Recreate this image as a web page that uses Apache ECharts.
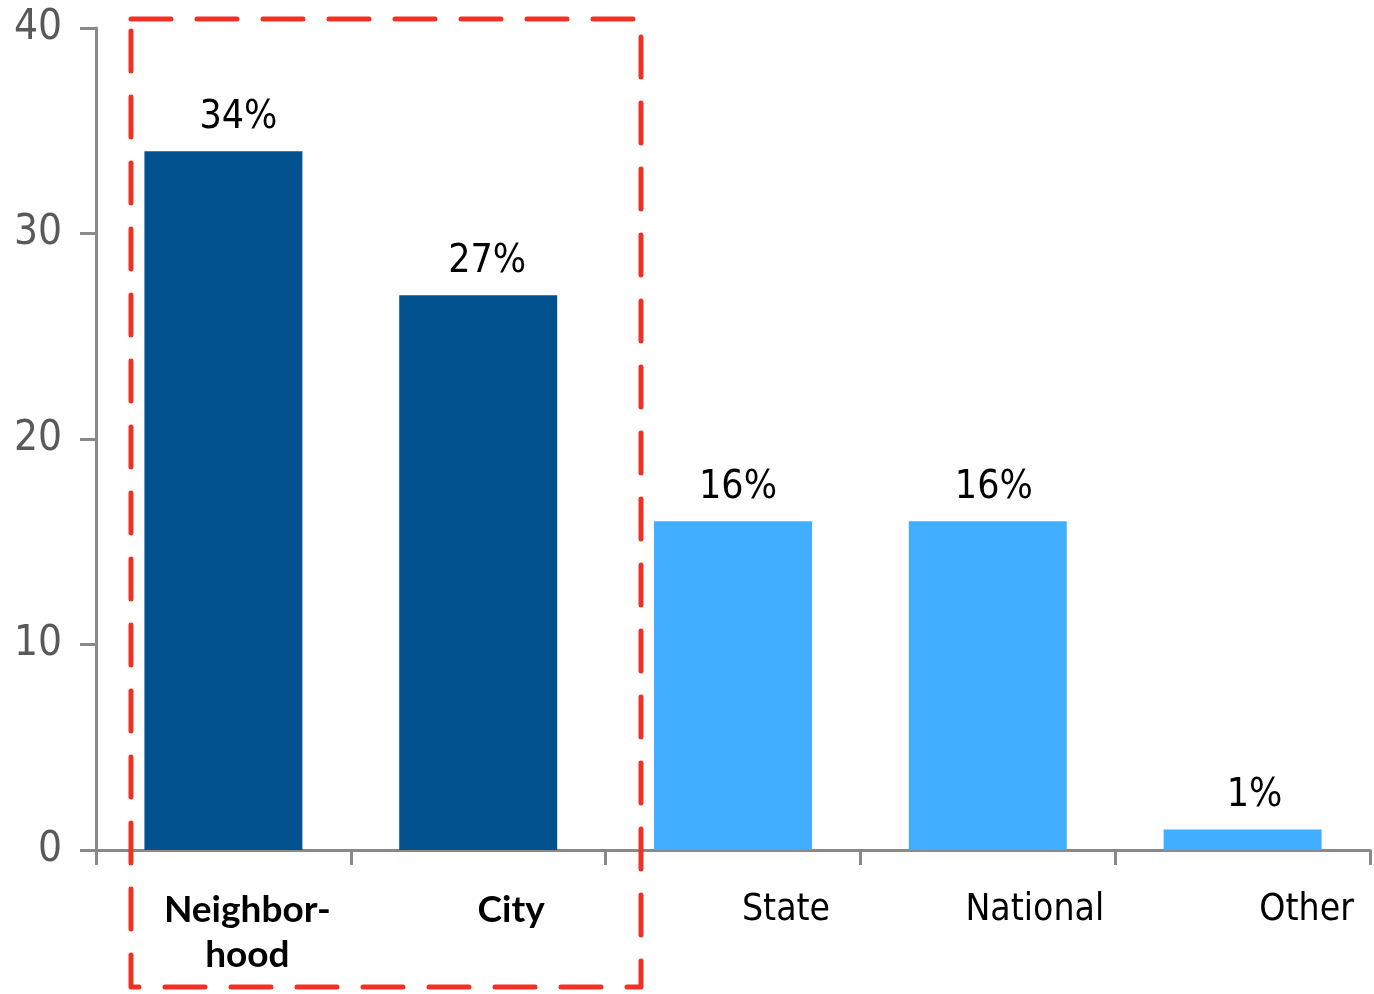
<!DOCTYPE html>
<html>
<head>
<meta charset="utf-8">
<script src="https://cdn.jsdelivr.net/npm/echarts@6/dist/echarts.min.js"></script>
<style>
  html, body { margin: 0; padding: 0; background: #fff; }
  #chart { width: 1374px; height: 994px; }
</style>
</head>
<body>
<div id="chart"></div>
<script>
// Share of respondents by scope of attention (%)
const categories = ['Neighbor-\nhood', 'City', 'State', 'National', 'Other'];
const shares = [34, 27, 16, 16, 1];
const highlighted = [true, true, false, false, false];
const yTicks = [0, 10, 20, 30, 40];

// Horizontal nudge (px) of each category label to the right of its slot centre
const labelShift = [24, 33, 53, 47, 64];
// Horizontal nudge (px) of each value label to the right of its bar centre
const valueShift = [15, 9, 5, 6, 12];

const DARK = '#02528F';
const LIGHT = '#42AEFF';
const FONT = '"DejaVu Sans Condensed", "DejaVu Sans", sans-serif';

const rich = {};
categories.forEach((c, i) => {
  rich['c' + i] = {
    fontFamily: highlighted[i] ? 'Lato, "DejaVu Sans", sans-serif' : FONT,
    fontWeight: highlighted[i] ? 'bold' : 'normal',
    fontSize: 37,
    color: '#000',
    lineHeight: 45,
    padding: [0, 0, 0, labelShift[i] * 2]
  };
});

const chart = echarts.init(document.getElementById('chart'), null, { renderer: 'canvas' });
chart.setOption({
  animation: false,
  grid: { left: 96, right: 4, top: 28, bottom: 144, containLabel: false },
  xAxis: {
    type: 'category',
    data: categories,
    axisLine: { lineStyle: { color: '#898989', width: 3 } },
    axisTick: { show: true, alignWithLabel: false, length: 15, lineStyle: { color: '#898989', width: 3 } },
    axisLabel: {
      interval: 0,
      margin: 38,
      formatter: (v, i) => v.split('\n').map(s => '{c' + i + '|' + s + '}').join('\n'),
      rich: rich
    }
  },
  yAxis: {
    type: 'value',
    min: yTicks[0],
    max: yTicks[yTicks.length - 1],
    interval: 10,
    splitLine: { show: false },
    axisLine: { show: true, lineStyle: { color: '#898989', width: 3 } },
    axisTick: { show: true, length: 16, lineStyle: { color: '#898989', width: 3 } },
    axisLabel: { margin: 34, fontFamily: FONT, fontSize: 42, color: '#595959' }
  },
  series: [{
    type: 'bar',
    barWidth: '62%',
    data: shares.map((v, i) => ({
      value: v,
      itemStyle: { color: highlighted[i] ? DARK : LIGHT },
      label: { offset: [valueShift[i], 0] }
    })),
    label: {
      show: true,
      position: 'top',
      distance: 14,
      formatter: p => p.value + '%',
      fontFamily: FONT,
      fontSize: 39,
      color: '#000'
    }
  }],
  graphic: [{
    type: 'rect',
    shape: { x: 131, y: 19, width: 510, height: 968 },
    style: {
      fill: 'none',
      stroke: '#EE3124',
      lineWidth: 5,
      lineDash: [40, 26],
      lineCap: 'round',
      lineJoin: 'round'
    },
    z: 100
  }]
});
</script>
</body>
</html>
